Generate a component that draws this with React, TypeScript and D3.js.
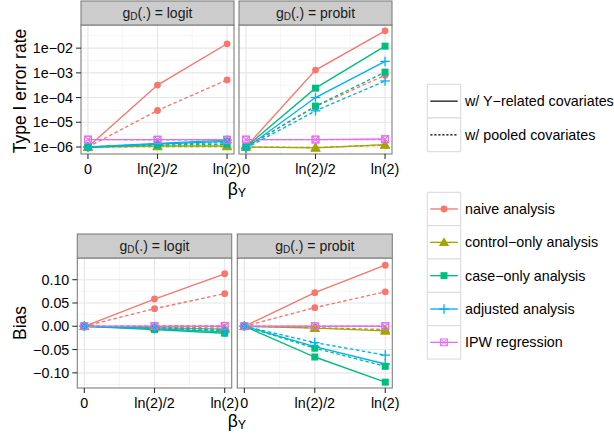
import React from 'react';
import * as d3 from 'd3';

// ---------- data ----------
const xLabels = ['0', 'ln(2)/2', 'ln(2)'];
const xValues = [0, Math.LN2 / 2, Math.LN2];
const methods = ['naive analysis', 'control\u2212only analysis', 'case\u2212only analysis', 'adjusted analysis', 'IPW regression'];
const methodColors = ['#F8766D', '#A3A500', '#00BF7D', '#00B0F6', '#E76BF3'];
const methodShapes = ['circle', 'triangle', 'square', 'plus', 'boxx'];
const covTypes = ['w/ Y\u2212related covariates', 'w/ pooled covariates'];
const linkLabels = ['logit', 'probit'];

// Type I error rate, rows = methods (naive, control, case, adjusted, IPW)
const typeILogitY = [
  [1.0e-6, 3.2e-4, 1.5e-2],
  [1.0e-6, 1.1e-6, 1.1e-6],
  [0.95e-6, 1.3e-6, 1.7e-6],
  [1.0e-6, 1.4e-6, 1.9e-6],
  [2.0e-6, 2.0e-6, 2.0e-6],
];
const typeILogitPooled = [
  [1.0e-6, 3.0e-5, 5.2e-4],
  [1.0e-6, 1.05e-6, 1.05e-6],
  [1.0e-6, 1.2e-6, 1.3e-6],
  [1.0e-6, 1.3e-6, 1.5e-6],
  [2.0e-6, 1.95e-6, 1.95e-6],
];
const typeIProbitY = [
  [1.0e-6, 1.3e-3, 5.0e-2],
  [1.0e-6, 0.92e-6, 1.25e-6],
  [1.0e-6, 2.4e-4, 1.2e-2],
  [0.9e-6, 1.0e-4, 2.9e-3],
  [2.0e-6, 2.0e-6, 2.1e-6],
];
const typeIProbitPooled = [
  [1.0e-6, 4.3e-5, 8.0e-4],
  [1.0e-6, 0.95e-6, 1.2e-6],
  [1.0e-6, 4.5e-5, 1.07e-3],
  [0.9e-6, 2.9e-5, 4.7e-4],
  [2.0e-6, 2.0e-6, 2.0e-6],
];

// Bias
const biasLogitY = [
  [0, 0.0585, 0.1127],
  [0, -0.003, -0.006],
  [0, -0.007, -0.015],
  [0, -0.005, -0.012],
  [0, 0, 0],
];
const biasLogitPooled = [
  [0, 0.0377, 0.070],
  [0, -0.002, -0.004],
  [0, -0.005, -0.010],
  [0, -0.003, -0.008],
  [0, 0.001, 0.001],
];
const biasProbitY = [
  [0, 0.072, 0.131],
  [0, -0.004, -0.010],
  [0, -0.066, -0.120],
  [0, -0.0437, -0.081],
  [0, 0, 0],
];
const biasProbitPooled = [
  [0, 0.040, 0.074],
  [0, -0.003, -0.007],
  [0, -0.047, -0.086],
  [0, -0.035, -0.062],
  [0, 0, 0],
];

const typeITicks = [1e-6, 1e-5, 1e-4, 1e-3, 1e-2];
const typeITickLabels = ['1e\u221206', '1e\u221205', '1e\u221204', '1e\u221203', '1e\u221202'];
const biasTicks = [-0.1, -0.05, 0, 0.05, 0.1];
const biasTickLabels = ['\u22120.10', '\u22120.05', '0.00', '0.05', '0.10'];

// ---------- helpers ----------
const FONT = 'Liberation Sans, Arial, Helvetica, sans-serif';
const dashPlot = '3.5,2.5';
const LW = 1.35;

function Marker({ shape, x, y, color }: { shape: string; x: number; y: number; color: string }) {
  if (shape === 'circle') return <circle cx={x} cy={y} r={3.4} fill={color} />;
  if (shape === 'triangle') {
    const p = d3.symbol(d3.symbolTriangle, 46)();
    return <path d={p || ''} transform={`translate(${x},${y + 0.8})`} fill={color} />;
  }
  if (shape === 'square') return <rect x={x - 3.5} y={y - 3.5} width={7} height={7} fill={color} />;
  if (shape === 'plus')
    return (
      <g stroke={color} strokeWidth={1.3}>
        <line x1={x - 4.8} x2={x + 4.8} y1={y} y2={y} />
        <line x1={x} x2={x} y1={y - 4.8} y2={y + 4.8} />
      </g>
    );
  return (
    <g stroke={color} strokeWidth={1} fill="none">
      <rect x={x - 3.4} y={y - 3.4} width={6.8} height={6.8} />
      <line x1={x - 3.4} y1={y - 3.4} x2={x + 3.4} y2={y + 3.4} />
      <line x1={x - 3.4} y1={y + 3.4} x2={x + 3.4} y2={y - 3.4} />
    </g>
  );
}

function StripLabel({ x, y, link }: { x: number; y: number; link: string }) {
  return (
    <text x={x} y={y} textAnchor="middle" dominantBaseline="central" fontSize={14} fontFamily={FONT} fill="#1a1a1a">
      g<tspan fontSize={10} dy={3}>D</tspan>
      <tspan dy={-3}>(.) = {link}</tspan>
    </text>
  );
}

type PanelProps = {
  x0: number; x1: number; stripTop: number; panelTop: number; panelBottom: number;
  link: string; yScale: any; majorY: number[]; minorY: number[];
  dataY: number[][]; dataPooled: number[][];
};

function Panel(p: PanelProps) {
  const xExt = d3.extent(xValues) as [number, number];
  const pad = (xExt[1] - xExt[0]) * 0.05;
  const x = d3.scaleLinear().domain([xExt[0] - pad, xExt[1] + pad]).range([p.x0, p.x1]);
  const minorX = [Math.LN2 / 4, (3 * Math.LN2) / 4];
  const line = d3.line<number>().x((_, i) => x(xValues[i])).y((v) => p.yScale(v));
  const clipId = `clip-${Math.round(p.x0)}-${Math.round(p.panelTop)}`;
  return (
    <g>
      <defs>
        <clipPath id={clipId}>
          <rect x={p.x0} y={p.panelTop} width={p.x1 - p.x0} height={p.panelBottom - p.panelTop} />
        </clipPath>
      </defs>
      <rect x={p.x0} y={p.panelTop} width={p.x1 - p.x0} height={p.panelBottom - p.panelTop} fill="#ffffff" />
      {p.minorY.map((v, i) => (
        <line key={'my' + i} x1={p.x0} x2={p.x1} y1={p.yScale(v)} y2={p.yScale(v)} stroke="#f5f5f5" strokeWidth={1} />
      ))}
      {minorX.map((v, i) => (
        <line key={'mx' + i} y1={p.panelTop} y2={p.panelBottom} x1={x(v)} x2={x(v)} stroke="#f5f5f5" strokeWidth={1} />
      ))}
      {p.majorY.map((v, i) => (
        <line key={'My' + i} x1={p.x0} x2={p.x1} y1={p.yScale(v)} y2={p.yScale(v)} stroke="#e6e6e6" strokeWidth={1.1} />
      ))}
      {xValues.map((v, i) => (
        <line key={'Mx' + i} y1={p.panelTop} y2={p.panelBottom} x1={x(v)} x2={x(v)} stroke="#e6e6e6" strokeWidth={1.1} />
      ))}
      <g clipPath={`url(#${clipId})`}>
        {[p.dataY, p.dataPooled].map((set, ci) =>
          set.map((row, mi) => (
            <path key={`l${ci}-${mi}`} d={line(row) || ''} fill="none" stroke={methodColors[mi]} strokeWidth={LW}
              strokeDasharray={ci === 1 ? dashPlot : undefined} />
          ))
        )}
        {[p.dataY, p.dataPooled].map((set, ci) =>
          set.map((row, mi) =>
            row.map((v, k) => (
              <Marker key={`p${ci}-${mi}-${k}`} shape={methodShapes[mi]} x={x(xValues[k])} y={p.yScale(v)} color={methodColors[mi]} />
            ))
          )
        )}
      </g>
      <rect x={p.x0} y={p.panelTop} width={p.x1 - p.x0} height={p.panelBottom - p.panelTop} fill="none" stroke="#7f7f7f" strokeWidth={1.1} />
      <rect x={p.x0} y={p.stripTop} width={p.x1 - p.x0} height={p.panelTop - p.stripTop} fill="#cccccc" stroke="#7f7f7f" strokeWidth={1.1} />
      <StripLabel x={(p.x0 + p.x1) / 2} y={(p.stripTop + p.panelTop) / 2} link={p.link} />
      {xValues.map((v, i) => (
        <g key={'xt' + i}>
          <line x1={x(v)} x2={x(v)} y1={p.panelBottom} y2={p.panelBottom + 5} stroke="#333333" strokeWidth={1.1} />
          <text x={x(v)} y={p.panelBottom + 15} textAnchor="middle" dominantBaseline="central" fontSize={14.3} fontFamily={FONT} fill="#000">
            {xLabels[i]}
          </text>
        </g>
      ))}
    </g>
  );
}

function YAxis({ x0, scale, ticks, labels }: { x0: number; scale: any; ticks: number[]; labels: string[] }) {
  return (
    <g>
      {ticks.map((t, i) => (
        <g key={i}>
          <line x1={x0 - 5} x2={x0} y1={scale(t)} y2={scale(t)} stroke="#333333" strokeWidth={1.1} />
          <text x={x0 - 8} y={scale(t)} textAnchor="end" dominantBaseline="central" fontSize={14.3} fontFamily={FONT} fill="#000">
            {labels[i]}
          </text>
        </g>
      ))}
    </g>
  );
}

function BetaTitle({ x, y }: { x: number; y: number }) {
  return (
    <text x={x} y={y} textAnchor="middle" dominantBaseline="central" fontSize={17.5} fontFamily={FONT} fill="#000">
      β<tspan fontSize={12.5} dy={4}>Y</tspan>
    </text>
  );
}

export default function App() {
  // ----- top: type I error -----
  const topStrip = 1, topPanelTop = 25, topPanelBottom = 154;
  const allT1 = [typeILogitY, typeILogitPooled, typeIProbitY, typeIProbitPooled].flat(2);
  const lo = Math.log10(d3.min(allT1) as number);
  const hi = Math.log10(d3.max(allT1) as number);
  const lpad = (hi - lo) * 0.05;
  const yTop = d3.scaleLog().domain([10 ** (lo - lpad), 10 ** (hi + lpad)]).range([topPanelBottom, topPanelTop]);
  const minorTop = [-6.5, -5.5, -4.5, -3.5, -2.5, -1.5].map((e) => 10 ** e).filter((v) => v >= yTop.domain()[0] && v <= yTop.domain()[1]);

  // ----- bottom: bias -----
  const botStrip = 234, botPanelTop = 258, botPanelBottom = 388;
  const allBias = [biasLogitY, biasLogitPooled, biasProbitY, biasProbitPooled].flat(2);
  const bmin = d3.min(allBias) as number;
  const bmax = d3.max(allBias) as number;
  const bpad = (bmax - bmin) * 0.05;
  const yBot = d3.scaleLinear().domain([bmin - bpad, bmax + bpad + 0.003]).range([botPanelBottom, botPanelTop]);
  const minorBot = [-0.125, -0.075, -0.025, 0.025, 0.075, 0.125].filter((v) => v >= yBot.domain()[0] && v <= yBot.domain()[1]);

  const leg1Top = 84.3, legStep1 = 33.7;
  const leg2Top = 192.3, legStep2 = 33.35;
  const keyX0 = 427.3, keyX1 = 460.7;

  return (
    <svg width={614} height={438} style={{ position: 'absolute', left: 0, top: 0 }}>
      <rect width={614} height={438} fill="#ffffff" />
      {/* Top row */}
      <Panel x0={81} x1={234} stripTop={topStrip} panelTop={topPanelTop} panelBottom={topPanelBottom} link={linkLabels[0]}
        yScale={yTop} majorY={typeITicks} minorY={minorTop} dataY={typeILogitY} dataPooled={typeILogitPooled} />
      <Panel x0={239} x1={392} stripTop={topStrip} panelTop={topPanelTop} panelBottom={topPanelBottom} link={linkLabels[1]}
        yScale={yTop} majorY={typeITicks} minorY={minorTop} dataY={typeIProbitY} dataPooled={typeIProbitPooled} />
      <YAxis x0={81} scale={yTop} ticks={typeITicks} labels={typeITickLabels} />
      <text transform="translate(20,91) rotate(-90)" textAnchor="middle" dominantBaseline="central" fontSize={17.5} fontFamily={FONT} fill="#000">
        Type I error rate
      </text>
      <BetaTitle x={237} y={189} />

      {/* Bottom row */}
      <Panel x0={77.3} x1={231.7} stripTop={botStrip} panelTop={botPanelTop} panelBottom={botPanelBottom} link={linkLabels[0]}
        yScale={yBot} majorY={biasTicks} minorY={minorBot} dataY={biasLogitY} dataPooled={biasLogitPooled} />
      <Panel x0={237.3} x1={392.3} stripTop={botStrip} panelTop={botPanelTop} panelBottom={botPanelBottom} link={linkLabels[1]}
        yScale={yBot} majorY={biasTicks} minorY={minorBot} dataY={biasProbitY} dataPooled={biasProbitPooled} />
      <YAxis x0={77.3} scale={yBot} ticks={biasTicks} labels={biasTickLabels} />
      <text transform="translate(20,323) rotate(-90)" textAnchor="middle" dominantBaseline="central" fontSize={17.5} fontFamily={FONT} fill="#000">
        Bias
      </text>
      <BetaTitle x={237} y={421} />

      {/* Legend: line type */}
      {covTypes.map((c, i) => {
        const y0 = leg1Top + i * legStep1;
        const cy = y0 + legStep1 / 2;
        return (
          <g key={'lt' + i}>
            <rect x={keyX0} y={y0} width={keyX1 - keyX0} height={legStep1} fill="#ffffff" stroke="#d9d9d9" strokeWidth={1} />
            <line x1={keyX0 + 3} x2={keyX1 - 3} y1={cy} y2={cy} stroke="#000" strokeWidth={1.2} strokeDasharray={i === 1 ? '2.2,1.8' : undefined} />
            <text x={465} y={cy} dominantBaseline="central" fontSize={14.3} fontFamily={FONT} fill="#000">{c}</text>
          </g>
        );
      })}

      {/* Legend: methods */}
      {methods.map((m, i) => {
        const y0 = leg2Top + i * legStep2;
        const cy = y0 + legStep2 / 2;
        return (
          <g key={'mt' + i}>
            <rect x={keyX0} y={y0} width={keyX1 - keyX0} height={legStep2} fill="#ffffff" stroke="#d9d9d9" strokeWidth={1} />
            <line x1={keyX0 + 3} x2={keyX1 - 3} y1={cy} y2={cy} stroke={methodColors[i]} strokeWidth={LW} />
            <Marker shape={methodShapes[i]} x={(keyX0 + keyX1) / 2} y={cy} color={methodColors[i]} />
            <text x={465} y={cy} dominantBaseline="central" fontSize={14.3} fontFamily={FONT} fill="#000">{m}</text>
          </g>
        );
      })}
    </svg>
  );
}
